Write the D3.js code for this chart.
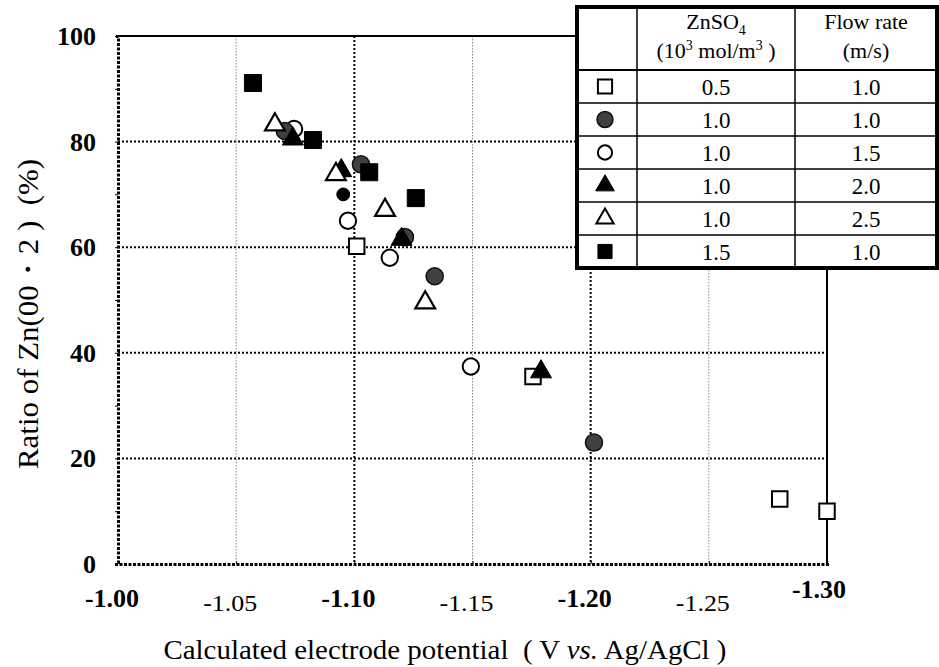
<!DOCTYPE html>
<html><head><meta charset="utf-8">
<script src="https://cdn.jsdelivr.net/npm/d3@7"></script>
<style>body{margin:0;background:#fff}svg{display:block}text{font-family:"Liberation Serif","Times New Roman",serif;fill:#000}</style>
</head><body><svg id="c" width="939" height="667"></svg>
<script>
// ---- data ----
const xTicks = [-1.00, -1.05, -1.10, -1.15, -1.20, -1.25, -1.30];
const xTickLabels = ["-1.00", "-1.05", "-1.10", "-1.15", "-1.20", "-1.25", "-1.30"];
const yTicks = [0, 20, 40, 60, 80, 100];
const yTickLabels = ["0", "20", "40", "60", "80", "100"];
const seriesNames = ["openSquare", "darkCircle", "openCircle", "filledTriangle", "openTriangle", "filledSquare"];
const znso4 = ["0.5", "1.0", "1.0", "1.0", "1.0", "1.5"];
const flowRate = ["1.0", "1.0", "1.5", "2.0", "2.5", "1.0"];
const openSquarePts = [[-1.101, 60.2], [-1.1756, 35.5], [-1.280, 12.3], [-1.300, 10.0]];
const darkCirclePts = [[-1.0706, 82.0], [-1.1028, 75.7], [-1.1214, 61.9], [-1.134, 54.5], [-1.2014, 23.0]];
const smallCirclePts = [[-1.0953, 70.0]];
const openCirclePts = [[-1.0745, 82.4], [-1.0973, 65.0], [-1.115, 58.0], [-1.1493, 37.4]];
const filledTrianglePts = [[-1.074, 80.5], [-1.0945, 74.5], [-1.120, 61.5], [-1.179, 36.4]];
const openTrianglePts = [[-1.0664, 83.2], [-1.0922, 73.8], [-1.113, 67.0], [-1.130, 49.5]];
const filledSquarePts = [[-1.0571, 91.1], [-1.0825, 80.3], [-1.1063, 74.2], [-1.126, 69.3]];

const svg = d3.select("#c");
const x = d3.scaleLinear().domain([-1.00, -1.30]).range([118, 827]);
const y = d3.scaleLinear().domain([0, 100]).range([564, 36]);

// grid
const g = svg.append("g");
[20, 40, 60, 80].forEach(v => g.append("line").attr("x1", x(-1.00)).attr("x2", x(-1.30))
  .attr("y1", y(v)).attr("y2", y(v)).attr("stroke", "#000").attr("stroke-width", 2).attr("stroke-dasharray", "2,2"));
[-1.05, -1.15, -1.25].forEach(v => g.append("line").attr("x1", x(v)).attr("x2", x(v))
  .attr("y1", y(100)).attr("y2", y(0)).attr("stroke", "#888").attr("stroke-width", 1).attr("stroke-dasharray", "1.5,1.5"));
[-1.10, -1.20].forEach(v => g.append("line").attr("x1", x(v)).attr("x2", x(v))
  .attr("y1", y(100)).attr("y2", y(0)).attr("stroke", "#000").attr("stroke-width", 2).attr("stroke-dasharray", "2,2"));
// top and right frame
g.append("line").attr("x1", x(-1.00) - 1).attr("x2", x(-1.30)).attr("y1", y(100)).attr("y2", y(100)).attr("stroke", "#000").attr("stroke-width", 2);
g.append("line").attr("x1", x(-1.30)).attr("x2", x(-1.30)).attr("y1", y(100)).attr("y2", y(0)).attr("stroke", "#000").attr("stroke-width", 2);

// axes
const yAxis = d3.axisLeft(y).tickValues(d3.range(0, 101, 10)).tickSize(3).tickFormat("");
const ya = svg.append("g").attr("transform", `translate(${x(-1.00)},0)`).call(yAxis);
ya.select(".domain").attr("stroke-width", 3).attr("stroke-dasharray", "3,1.5");
const xAxis = d3.axisBottom(x).tickValues(xTicks).tickSize(-3).tickFormat("");
const xa = svg.append("g").attr("transform", `translate(0,${y(0)})`).call(xAxis);
xa.select(".domain").attr("stroke-width", 3).attr("stroke-dasharray", "3,1.5");

// tick labels
yTicks.forEach((v, i) => svg.append("text").attr("x", 96).attr("y", y(v) + 9)
  .attr("text-anchor", "end").attr("font-size", 26).attr("font-weight", "bold").text(yTickLabels[i]));
xTicks.forEach((v, i) => {
  const bold = i % 2 === 0;
  const yy = i === 6 ? 598 : (bold ? 607 : 611);
  svg.append("text").attr("transform", `translate(${x(v) - (i === 6 ? 8 : 6)},${yy}) scale(${bold ? 1 : 1.08},1)`)
    .attr("text-anchor", "middle").attr("font-size", bold ? 26 : 24).attr("font-weight", bold ? "bold" : "normal")
    .text(xTickLabels[i]);
});

// titles
const xt = svg.append("text").attr("x", 445).attr("y", 659).attr("text-anchor", "middle").attr("font-size", 28)
  .attr("textLength", 563).attr("lengthAdjust", "spacingAndGlyphs");
xt.append("tspan").text("Calculated electrode potential\u00a0\u00a0( V ");
xt.append("tspan").attr("font-style", "italic").text("vs.");
xt.append("tspan").text(" Ag/AgCl )");
svg.append("text").attr("transform", "translate(38,314) rotate(-90)").attr("text-anchor", "middle")
  .attr("font-size", 29).attr("textLength", 310).attr("lengthAdjust", "spacingAndGlyphs")
  .text("Ratio of Zn(00\u30fb2 )\u00a0\u00a0(%)");

// markers
const sym = {
  openSquare: {type: d3.symbolSquare, size: 240, fill: "#fff", stroke: "#000", sw: 2},
  darkCircle: {type: d3.symbolCircle, size: 230, fill: "#404040", stroke: "#111", sw: 1.5},
  smallCircle: {type: d3.symbolCircle, size: 130, fill: "#000", stroke: "#000", sw: 1},
  openCircle: {type: d3.symbolCircle, size: 210, fill: "#fff", stroke: "#000", sw: 2},
  filledTriangle: {type: d3.symbolTriangle, size: 190, fill: "#000", stroke: "#000", sw: 1},
  openTriangle: {type: d3.symbolTriangle, size: 170, fill: "#fff", stroke: "#000", sw: 2.2},
  filledSquare: {type: d3.symbolSquare, size: 290, fill: "#000", stroke: "#000", sw: 1}
};
function draw(pts, key) {
  const s = sym[key];
  svg.append("g").selectAll("path").data(pts).join("path")
    .attr("transform", d => `translate(${x(d[0])},${y(d[1])})`)
    .attr("d", d3.symbol().type(s.type).size(s.size))
    .attr("fill", s.fill).attr("stroke", s.stroke).attr("stroke-width", s.sw);
}
draw(openCirclePts, "openCircle");
draw(darkCirclePts, "darkCircle");
draw(smallCirclePts, "smallCircle");
draw(openSquarePts, "openSquare");
draw(filledTrianglePts, "filledTriangle");
draw(openTrianglePts, "openTriangle");
draw(filledSquarePts, "filledSquare");

// legend table
const L = {x0: 577, x1: 937, y0: 7, y1: 268, c1: 637, c2: 795, hdr: 70};
const lg = svg.append("g");
lg.append("rect").attr("x", L.x0).attr("y", L.y0).attr("width", L.x1 - L.x0).attr("height", L.y1 - L.y0)
  .attr("fill", "#fff").attr("stroke", "none");
const rowH = (L.y1 - L.hdr) / 6;
for (let i = 0; i < 6; i++) {
  const yy = L.hdr + i * rowH;
  lg.append("line").attr("x1", L.x0).attr("x2", L.x1).attr("y1", yy).attr("y2", yy).attr("stroke", "#000").attr("stroke-width", i === 0 ? 2 : 1.5);
}
[L.c1, L.c2].forEach(cx => lg.append("line").attr("x1", cx).attr("x2", cx).attr("y1", L.y0).attr("y2", L.y1).attr("stroke", "#000").attr("stroke-width", 1.5));
lg.append("rect").attr("x", L.x0).attr("y", L.y0).attr("width", L.x1 - L.x0).attr("height", L.y1 - L.y0)
  .attr("fill", "none").attr("stroke", "#000").attr("stroke-width", 4);
// header
const h1 = lg.append("text").attr("x", (L.c1 + L.c2) / 2).attr("y", 29).attr("text-anchor", "middle").attr("font-size", 22);
h1.append("tspan").text("ZnSO");
h1.append("tspan").attr("font-size", 14).attr("dy", 6).text("4");
const h2 = lg.append("text").attr("x", (L.c1 + L.c2) / 2).attr("y", 58).attr("text-anchor", "middle").attr("font-size", 22);
h2.append("tspan").text("(10");
h2.append("tspan").attr("font-size", 14).attr("dy", -8).text("3");
h2.append("tspan").attr("dy", 8).text(" mol/m");
h2.append("tspan").attr("font-size", 14).attr("dy", -8).text("3");
h2.append("tspan").attr("dy", 8).text(" )");
lg.append("text").attr("x", (L.c2 + L.x1) / 2).attr("y", 29).attr("text-anchor", "middle").attr("font-size", 22).text("Flow rate");
lg.append("text").attr("x", (L.c2 + L.x1) / 2).attr("y", 58).attr("text-anchor", "middle").attr("font-size", 22).text("(m/s)");
const legSym = {
  openSquare: {type: d3.symbolSquare, size: 200, fill: "#fff", stroke: "#000", sw: 2},
  darkCircle: {type: d3.symbolCircle, size: 200, fill: "#404040", stroke: "#111", sw: 1.5},
  openCircle: {type: d3.symbolCircle, size: 160, fill: "#fff", stroke: "#000", sw: 2},
  filledTriangle: {type: d3.symbolTriangle, size: 150, fill: "#000", stroke: "#000", sw: 1},
  openTriangle: {type: d3.symbolTriangle, size: 130, fill: "#fff", stroke: "#000", sw: 2},
  filledSquare: {type: d3.symbolSquare, size: 200, fill: "#000", stroke: "#000", sw: 1}
};
seriesNames.forEach((k, i) => {
  const cy = L.hdr + (i + 0.5) * rowH;
  const s = legSym[k];
  lg.append("path").attr("transform", `translate(${(L.x0 + L.c1) / 2 - 2},${cy})`)
    .attr("d", d3.symbol().type(s.type).size(s.size)).attr("fill", s.fill).attr("stroke", s.stroke).attr("stroke-width", s.sw);
  lg.append("text").attr("x", (L.c1 + L.c2) / 2).attr("y", cy + 8).attr("text-anchor", "middle").attr("font-size", 23).text(znso4[i]);
  lg.append("text").attr("x", (L.c2 + L.x1) / 2).attr("y", cy + 8).attr("text-anchor", "middle").attr("font-size", 23).text(flowRate[i]);
});
</script></body></html>
